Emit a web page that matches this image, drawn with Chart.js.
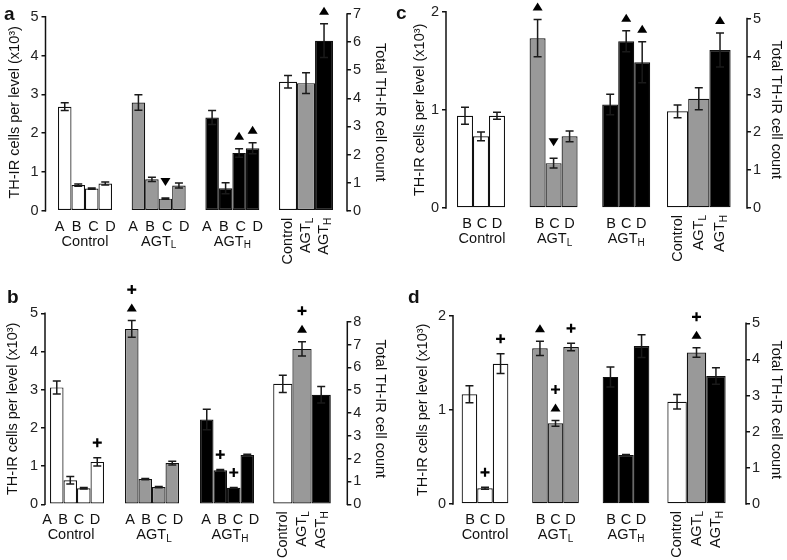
<!DOCTYPE html>
<html>
<head>
<meta charset="utf-8">
<script src="https://cdn.jsdelivr.net/npm/chart.js@4.4.1/dist/chart.umd.min.js"></script>
<style>
  body { margin: 0; background: #fff; }
  #fig { position: relative; width: 787px; height: 560px; font-family: "Liberation Sans", Arial, sans-serif; color: #111; }
  #fig canvas { position: absolute; }
  .tag { position: absolute; font-weight: bold; font-size: 19px; line-height: 1; }
</style>
</head>
<body>
<div id="fig">
  <canvas id="chartA" width="393" height="270" style="left:0;top:0"></canvas>
  <canvas id="chartB" width="393" height="290" style="left:0;top:270px"></canvas>
  <canvas id="chartC" width="394" height="270" style="left:393px;top:0"></canvas>
  <canvas id="chartD" width="394" height="290" style="left:393px;top:270px"></canvas>
  <div class="tag" style="left:4px;top:4px">a</div>
  <div class="tag" style="left:7px;top:287px">b</div>
  <div class="tag" style="left:396px;top:3px">c</div>
  <div class="tag" style="left:408px;top:287px">d</div>
</div>
<script>
const FONT = '"Liberation Sans", Arial, sans-serif';

// ---------- DATA ----------
const groupNames = ["Control", "AGT", "AGT"];
const groupSubs = ["", "L", "H"];
const groupColors = ["#ffffff", "#999999", "#000000"];

// rows = level, columns = Control, AGT-L, AGT-H ; marks: ^ up, v down, + plus
const aLevels = ["A", "B", "C", "D"];
const aValues = [[2.68, 2.79, 2.40], [0.66, 0.81, 0.58], [0.57, 0.31, 1.49], [0.70, 0.65, 1.61]];
const aErrors = [[0.10, 0.20, 0.18], [0.03, 0.055, 0.14], [0.015, 0.015, 0.11], [0.04, 0.065, 0.14]];
const aMarks = [["", "", ""], ["", "", ""], ["", "v", "^"], ["", "", "^"]];
const aTotals = [4.59, 4.54, 6.05];
const aTotalErrors = [0.22, 0.37, 0.6];
const aTotalMarks = ["", "", "^"];

const bLevels = ["A", "B", "C", "D"];
const bValues = [[3.06, 4.59, 2.22], [0.63, 0.66, 0.89], [0.42, 0.45, 0.43], [1.11, 1.08, 1.29]];
const bErrors = [[0.17, 0.22, 0.27], [0.1, 0.015, 0.02], [0.02, 0.015, 0.01], [0.11, 0.05, 0.02]];
const bMarks = [["", "^+", ""], ["", "", "+"], ["", "", "+"], ["+", "", ""]];
const bTotals = [5.28, 6.81, 4.80];
const bTotalErrors = [0.38, 0.31, 0.36];
const bTotalMarks = ["", "^+", ""];

const cLevels = ["B", "C", "D"];
const cValues = [[0.94, 1.73, 1.055], [0.73, 0.457, 1.70], [0.94, 0.73, 1.485]];
const cErrors = [[0.087, 0.19, 0.105], [0.045, 0.05, 0.107], [0.035, 0.055, 0.21]];
const cMarks = [["", "^", ""], ["", "v", "^"], ["", "", "^"]];
const cTotals = [2.55, 2.88, 4.17];
const cTotalErrors = [0.17, 0.29, 0.45];
const cTotalMarks = ["", "", "^"];

const dLevels = ["B", "C", "D"];
const dValues = [[1.165, 1.653, 1.35], [0.167, 0.857, 0.52], [1.49, 1.667, 1.677]];
const dErrors = [[0.09, 0.075, 0.106], [0.01, 0.03, 0.005], [0.105, 0.04, 0.12]];
const dMarks = [["", "^", ""], ["+", "^+", ""], ["+", "+", ""]];
const dTotals = [2.83, 4.19, 3.54];
const dTotalErrors = [0.2, 0.13, 0.23];
const dTotalMarks = ["", "^+", ""];

const leftTitle = "TH-IR cells per level (x10\u00B3)";
const rightTitle = "Total TH-IR cell count";

// ---------- DRAW HELPERS ----------
function drawSub(ctx, text, sub, x, y) {
  ctx.font = "14.5px " + FONT;
  const w1 = ctx.measureText(text).width;
  ctx.font = "10px " + FONT;
  const w2 = sub ? ctx.measureText(sub).width : 0;
  const x0 = x - (w1 + w2) / 2;
  ctx.textAlign = "left";
  ctx.textBaseline = "middle";
  ctx.font = "14.5px " + FONT;
  ctx.fillText(text, x0, y);
  if (sub) {
    ctx.font = "10px " + FONT;
    ctx.fillText(sub, x0 + w1, y + 4);
  }
}

function drawMark(ctx, m, x, y) {
  ctx.fillStyle = "#000";
  ctx.strokeStyle = "#000";
  if (m === "^" || m === "v") {
    const h = m === "^" ? -4 : 4;
    ctx.beginPath();
    ctx.moveTo(x, y + h);
    ctx.lineTo(x - 5, y - h);
    ctx.lineTo(x + 5, y - h);
    ctx.closePath();
    ctx.fill();
  } else if (m === "+") {
    ctx.lineWidth = 2.2;
    ctx.beginPath();
    ctx.moveTo(x - 4.5, y);
    ctx.lineTo(x + 4.5, y);
    ctx.moveTo(x, y - 4.5);
    ctx.lineTo(x, y + 4.5);
    ctx.stroke();
  }
}

const extras = {
  id: "extras",
  afterDatasetsDraw(chart) {
    const ctx = chart.ctx;
    const area = chart.chartArea;
    ctx.save();

    // axis lines from 0 to the last tick
    ["y", "y2"].forEach((id) => {
      const s = chart.scales[id];
      const x = id === "y" ? area.left : area.right;
      ctx.strokeStyle = "#111";
      ctx.lineWidth = 1.5;
      ctx.beginPath();
      ctx.moveTo(x, s.getPixelForValue(0) + 0.75);
      ctx.lineTo(x, s.getPixelForValue(Math.floor(s.max + 1e-6)) - 0.75);
      ctx.stroke();
    });

    // error bars + significance marks
    chart.data.datasets.forEach((ds, i) => {
      const meta = chart.getDatasetMeta(i);
      const s = chart.scales[ds.yAxisID];
      ds.data.forEach((v, j) => {
        if (v === null) return;
        const x = meta.data[j].x;
        const e = ds.errors[j];
        const hi = s.getPixelForValue(v + e);
        const lo = s.getPixelForValue(v - e);
        ctx.strokeStyle = "#1a1a1a";
        ctx.lineWidth = 1.5;
        ctx.beginPath();
        ctx.moveTo(x, hi);
        ctx.lineTo(x, lo);
        ctx.moveTo(x - 4, hi);
        ctx.lineTo(x + 4, hi);
        ctx.moveTo(x - 4, lo);
        ctx.lineTo(x + 4, lo);
        ctx.stroke();

        let y = hi;
        (ds.marks[j] || "").split("").forEach((m, k) => {
          if (k === 0) y -= m === "^" ? 13 : m === "v" ? 16 : 15;
          else y -= 18;
          drawMark(ctx, m, x, y);
        });
      });
    });
    ctx.restore();
  },
  afterDraw(chart) {
    const ctx = chart.ctx;
    const L = chart.options.panel;
    const base = chart.scales.y.getPixelForValue(0);
    const sets = chart.data.datasets;
    ctx.save();
    ctx.fillStyle = "#111";

    const levelIdx = sets.map((d, i) => i).filter((i) => !sets[i].isTotal);
    const n = levelIdx.length;
    for (let j = 0; j < 3; j++) {
      const xs = levelIdx.map((i) => chart.getDatasetMeta(i).data[j].x);
      const cx = xs.reduce((a, b) => a + b, 0) / n + L.labelShift[j];
      // level letters under the group
      levelIdx.forEach((i, k) => {
        ctx.font = "14.5px " + FONT;
        ctx.textAlign = "center";
        ctx.textBaseline = "middle";
        ctx.fillText(sets[i].label, cx + (k - (n - 1) / 2) * L.letterPitch, base + 16);
      });
      drawSub(ctx, groupNames[j], groupSubs[j], cx, base + 31);
    }
    // rotated labels under the total bars
    sets.forEach((ds, i) => {
      if (!ds.isTotal) return;
      const el = chart.getDatasetMeta(i).data[3];
      const name = groupNames[ds.groupIndex];
      const sub = groupSubs[ds.groupIndex];
      ctx.save();
      ctx.translate(el.x, base + 7);
      ctx.rotate(-Math.PI / 2);
      ctx.font = "14.5px " + FONT;
      const w1 = ctx.measureText(name).width;
      ctx.font = "10px " + FONT;
      const w2 = sub ? ctx.measureText(sub).width : 0;
      ctx.textAlign = "left";
      ctx.textBaseline = "middle";
      ctx.font = "14.5px " + FONT;
      ctx.fillText(name, -(w1 + w2), 0);
      if (sub) {
        ctx.font = "10px " + FONT;
        ctx.fillText(sub, -w2, 4);
      }
      ctx.restore();
    });
    ctx.restore();
  },
};

// ---------- PANELS ----------
function makePanel(id, levels, values, errors, marks, totals, totalErrors, totalMarks, L) {
  const datasets = levels.map((lev, i) => ({
    label: lev,
    data: values[i].concat([null]),
    errors: errors[i].concat([null]),
    marks: marks[i].concat([""]),
    backgroundColor: groupColors.concat(["#ffffff"]),
    yAxisID: "y",
    categoryPercentage: L.groupPct,
  }));
  totals.forEach((v, j) => {
    datasets.push({
      label: groupNames[j] + groupSubs[j],
      data: [null, null, null, v],
      errors: [null, null, null, totalErrors[j]],
      marks: ["", "", "", totalMarks[j]],
      backgroundColor: groupColors[j],
      yAxisID: "y2",
      categoryPercentage: L.totalPct,
      isTotal: true,
      groupIndex: j,
    });
  });

  const yCommon = {
    min: 0,
    ticks: { stepSize: 1, includeBounds: false, color: "#222", font: { family: FONT, size: 14.5 } },
    grid: { drawOnChartArea: false, tickLength: 4, color: "#111", lineWidth: 1.5 },
    border: { display: false },
  };

  return new Chart(document.getElementById(id), {
    type: "bar",
    data: { labels: [0, 1, 2, 3], datasets },
    options: {
      responsive: false,
      animation: false,
      devicePixelRatio: 1,
      panel: L,
      layout: { padding: L.pad },
      datasets: {
        bar: {
          barPercentage: 1,
          skipNull: true,
          borderColor: "#111",
          borderWidth: 1.2,
          borderSkipped: false,
        },
      },
      plugins: { legend: { display: false }, tooltip: { enabled: false } },
      scales: {
        x: {
          type: "linear",
          display: false,
          offset: false,
          min: L.xMin,
          max: L.xMax,
          ticks: { stepSize: 1, includeBounds: false },
          grid: { display: false },
        },
        y: {
          ...yCommon,
          position: "left",
          max: L.yMax,
          ticks: { ...yCommon.ticks, padding: 3 },
          title: { display: true, text: leftTitle, color: "#111", font: { family: FONT, size: 14.5 }, padding: { top: 2, bottom: 2 } },
          afterFit: (s) => { s.width = L.yWidth; },
        },
        y2: {
          ...yCommon,
          position: "right",
          max: L.y2Max,
          ticks: { ...yCommon.ticks, padding: 2 },
          title: { display: true, text: rightTitle, color: "#111", font: { family: FONT, size: 14.5 }, padding: { top: 2, bottom: 2 } },
          afterFit: (s) => { s.width = L.y2Width; },
        },
      },
    },
    plugins: [extras],
  });
}

makePanel("chartA", aLevels, aValues, aErrors, aMarks, aTotals, aTotalErrors, aTotalMarks, {
  pad: { left: 4.3, right: 2.3, top: 14, bottom: 59.3 },
  yWidth: 41.2, y2Width: 43.7, yMax: 5.07, y2Max: 7,
  xMin: -0.536, xMax: 3.556, groupPct: 0.733, totalPct: 0.733,
  letterPitch: 17, labelShift: [0, 0, 0],
});
makePanel("chartB", bLevels, bValues, bErrors, bMarks, bTotals, bTotalErrors, bTotalMarks, {
  pad: { left: 2.3, right: 2.3, top: 43.3, bottom: 55.7 },
  yWidth: 42.7, y2Width: 43.4, yMax: 5, y2Max: 8.37,
  xMin: -0.427, xMax: 3.604, groupPct: 0.72, totalPct: 0.768,
  letterPitch: 16, labelShift: [-6, 2, 3],
});
makePanel("chartC", cLevels, cValues, cErrors, cMarks, cTotals, cTotalErrors, cTotalMarks, {
  pad: { left: 16.3, right: 0, top: 10.7, bottom: 62 },
  yWidth: 36.7, y2Width: 40, yMax: 2, y2Max: 5.18,
  xMin: -0.482, xMax: 3.664, groupPct: 0.661, totalPct: 0.877,
  letterPitch: 15, labelShift: [1, 1, 0],
});
makePanel("chartD", dLevels, dValues, dErrors, dMarks, dTotals, dTotalErrors, dTotalMarks, {
  pad: { left: 19.3, right: 0, top: 45.7, bottom: 56 },
  yWidth: 40.7, y2Width: 41, yMax: 2, y2Max: 5.21,
  xMin: -0.454, xMax: 3.702, groupPct: 0.662, totalPct: 0.827,
  letterPitch: 15, labelShift: [0, 0, 0],
});
</script>
</body>
</html>
